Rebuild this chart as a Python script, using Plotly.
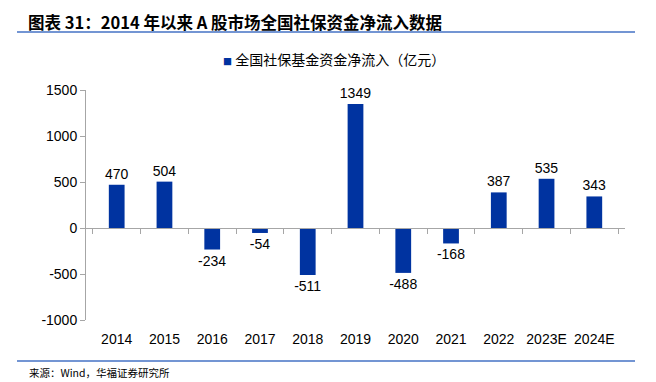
import plotly.graph_objects as go

years = ["2014", "2015", "2016", "2017", "2018", "2019", "2020", "2021", "2022", "2023E", "2024E"]
values = [470, 504, -234, -54, -511, 1349, -488, -168, 387, 535, 343]
series_name = "全国社保基金资金净流入（亿元）"
title_text = "图表 31：2014 年以来 A 股市场全国社保资金净流入数据"
source_text = "来源：Wind，华福证券研究所"
y_ticks = [-1000, -500, 0, 500, 1000, 1500]

BAR = "#0033A0"
AX = "#A6A6A6"
LINE = "#4472C4"
FONT = "Liberation Sans, Arial, Noto Sans CJK SC, sans-serif"
CJK = "Noto Sans CJK SC, sans-serif"

fig = go.Figure()
fig.add_trace(go.Bar(
    x=years, y=values, name=series_name, showlegend=False,
    marker=dict(color=BAR, line=dict(width=0)),
    text=[str(v) for v in values], textposition="outside", constraintext="none",
    textfont=dict(size=14, color="#000000", family=FONT),
    cliponaxis=False,
))
# invisible trace to carry the zero-line category axis
fig.add_trace(go.Scatter(
    x=years, y=[0] * len(years), xaxis="x2", mode="markers",
    marker=dict(opacity=0), showlegend=False, hoverinfo="skip",
))

fig.update_layout(
    width=648, height=374,
    margin=dict(l=78, r=31, t=82, b=62, autoexpand=False),
    paper_bgcolor="white", plot_bgcolor="white",
    bargap=0.67,
    font=dict(family=FONT, size=14, color="#000000"),
    showlegend=False,
    xaxis=dict(
        type="category", showline=False, ticks="outside", ticklen=6,
        tickcolor="rgba(0,0,0,0)", showgrid=False, zeroline=False,
        tickfont=dict(size=14, family=FONT),
    ),
    xaxis2=dict(
        type="category", matches="x", overlaying="x", anchor="free", position=0.4,
        showline=True, linecolor=AX, linewidth=1, ticks="outside", tickson="boundaries",
        ticklen=5, tickcolor=AX, showticklabels=False, showgrid=False, zeroline=False,
    ),
    yaxis=dict(
        range=[-1000, 1500], tickvals=y_ticks, ticktext=[str(t) for t in y_ticks],
        showline=True, linecolor=AX, linewidth=1, ticks="outside", ticklen=5, tickcolor=AX,
        showgrid=False, zeroline=False, tickfont=dict(size=14, family=FONT),
    ),
    shapes=[
        dict(type="line", xref="paper", yref="paper", x0=-0.128, x1=1.0186, y0=1.252, y1=1.252,
             line=dict(color=LINE, width=1.5)),
        dict(type="line", xref="paper", yref="paper", x0=-0.128, x1=1.0186, y0=-0.178, y1=-0.178,
             line=dict(color=LINE, width=1.5)),
    ],
    annotations=[
        dict(text="<b>" + title_text + "</b>", xref="paper", yref="paper",
             x=-0.1095, y=1.353, xanchor="left", yanchor="top", showarrow=False,
             borderpad=0, font=dict(size=16.5, family=CJK, color="#000")),
        dict(text="<span style='color:" + BAR + ";font-size:9px'>■</span> " + series_name,
             xref="paper", yref="paper",
             x=0.2505, y=1.135, xanchor="left", yanchor="middle", showarrow=False,
             font=dict(size=14, family=CJK, color="#000")),
        dict(text=source_text, xref="paper", yref="paper",
             x=-0.1095, y=-0.2304, xanchor="left", yanchor="middle", showarrow=False,
             font=dict(size=10.5, family=CJK, color="#000")),
    ],
)

fig.write_html("out.html")
